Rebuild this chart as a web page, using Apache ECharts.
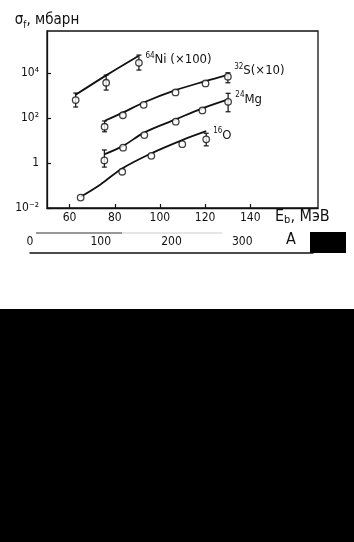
<!DOCTYPE html>
<html>
<head>
<meta charset="utf-8">
<script src="https://cdn.jsdelivr.net/npm/echarts@6.0.0/dist/echarts.min.js"></script>
<style>
html,body{margin:0;padding:0;background:#fff;}
#c{width:354px;height:542px;}
</style>
</head>
<body>
<div id="c"></div>
<script>
// ---- data ----
const xTickValues = [60, 80, 100, 120, 140];
const yTickValues = [0.01, 1, 100, 10000];
const aTickValues = [0, 100, 200, 300];

// 64Ni (x100)
const niE = [62.7, 76.2, 90.7];
const niVal = [630, 3700, 28600];
const niErrE = [62.7, 76.2, 90.7];
const niErrLow = [309, 1750, 13600];
const niErrHigh = [1290, 8130, 63000];
const niLineE = [62.5, 76.2, 90.5];
const niLineVal = [1050, 7900, 57500];

// 32S (x10)
const sE = [75.5, 83.6, 92.8, 106.9, 120.2, 130.1];
const sVal = [41, 133, 386, 1380, 3470, 6900];
const sErrE = [75.5, 130.1];
const sErrLow = [24.5, 3700];
const sErrHigh = [74, 10300];
const sLineE = [75.6, 83.6, 92.8, 106.9, 120.2, 129.8];
const sLineVal = [76, 174, 490, 1740, 4370, 8130];

// 24Mg
const mgE = [75.4, 83.7, 93.1, 107.0, 118.8, 130.2];
const mgVal = [1.3, 4.8, 17.4, 69, 219, 525];
const mgErrE = [75.4, 130.2];
const mgErrLow = [0.66, 190];
const mgErrHigh = [3.8, 1260];
const mgLineE = [75.6, 83.7, 93.0, 107.0, 118.8, 130.3];
const mgLineVal = [2.5, 5.8, 22.4, 87, 270, 676];

// 16O
const oE = [64.9, 83.3, 96.2, 109.9, 120.5];
const oVal = [0.029, 0.41, 2.09, 6.9, 11.3];
const oErrE = [120.5];
const oErrLow = [5.8];
const oErrHigh = [21];
const oLineE = [64.9, 73.7, 83.3, 96.2, 109.9, 120.5];
const oLineVal = [0.0316, 0.112, 0.575, 2.7, 10.5, 26];

const labels = ['{p|64}{n|Ni (×100)}', '{p|32}{n|S(×10)}', '{p|24}{n|Mg}', '{p|16}{n|O}'];

// ---- build ----
const FONT = "'Liberation Sans Narrow','DejaVu Sans Condensed','Liberation Sans',sans-serif";
const INK = '#111';
const zip = (a, b) => a.map((v, i) => [v, b[i]]);
const zip3 = (a, b, c) => a.map((v, i) => [v, b[i], c[i]]);
const supMap = {'0':'⁰','1':'¹','2':'²','3':'³','4':'⁴','5':'⁵','6':'⁶','7':'⁷','8':'⁸','9':'⁹','-':'⁻'};
function yFmt(v) {
  const l = Math.log10(v);
  const e = Math.round(l);
  if (Math.abs(l - e) > 1e-6 || e % 2 !== 0) return '';
  if (e === 0) return '1';
  return '10' + String(e).split('').map(c => supMap[c]).join('');
}
const labelRich = {
  p: {fontFamily: FONT, fontSize: 8, color: INK, verticalAlign: 'top', lineHeight: 10},
  n: {fontFamily: FONT, fontSize: 13, color: INK, lineHeight: 17}
};
function lineSeries(E, V, label, off) {
  return {
    type: 'line', data: zip(E, V), smooth: 0.35, symbol: 'none',
    lineStyle: {color: INK, width: 1.8}, z: 2,
    endLabel: {show: true, formatter: label, distance: 7, offset: off, rich: labelRich}
  };
}
function errSeries(E, lo, hi) {
  return {
    type: 'custom', data: zip3(E, lo, hi), z: 3,
    encode: {x: 0, y: [1, 2]},
    renderItem: function (params, api) {
      const a = api.coord([api.value(0), api.value(1)]);
      const b = api.coord([api.value(0), api.value(2)]);
      const w = 2.5;
      const st = {stroke: INK, lineWidth: 1.2};
      return {type: 'group', children: [
        {type: 'line', shape: {x1: a[0], y1: a[1], x2: b[0], y2: b[1]}, style: st},
        {type: 'line', shape: {x1: a[0] - w, y1: a[1], x2: a[0] + w, y2: a[1]}, style: st},
        {type: 'line', shape: {x1: b[0] - w, y1: b[1], x2: b[0] + w, y2: b[1]}, style: st}
      ]};
    }
  };
}
function ptSeries(E, V) {
  return {
    type: 'scatter', data: zip(E, V), symbol: 'circle', symbolSize: 6.5, z: 4,
    itemStyle: {color: '#fff', borderColor: INK, borderWidth: 1.3}
  };
}

const chart = echarts.init(document.getElementById('c'), null, {renderer: 'canvas'});
chart.setOption({
  animation: false,
  backgroundColor: '#fff',
  grid: [
    {left: 47, top: 31, width: 271, height: 177, show: true, borderColor: INK, borderWidth: 1.3, backgroundColor: 'transparent'},
    {left: 30, top: 232, width: 283, height: 21}
  ],
  xAxis: [
    {type: 'value', gridIndex: 0, min: 50, max: 170,
     axisLine: {lineStyle: {color: INK, width: 1.3}},
     axisTick: {inside: true, length: 4, customValues: xTickValues, lineStyle: {color: INK, width: 1.2}},
     axisLabel: {customValues: xTickValues, color: INK, fontFamily: FONT, fontSize: 12, margin: 4},
     splitLine: {show: false}},
    {type: 'value', gridIndex: 1, min: 0, max: 400,
     axisLine: {lineStyle: {color: INK, width: 1.5}},
     axisTick: {show: false},
     axisLabel: {customValues: aTickValues, inside: true, color: INK, fontFamily: FONT, fontSize: 12, margin: 5},
     splitLine: {show: false}}
  ],
  yAxis: [
    {type: 'log', gridIndex: 0, logBase: 10, min: 0.01, max: Math.pow(10, 5.87), interval: 2,
     name: '{m|σ}{s|f}{m|, мбарн}', nameLocation: 'end', nameGap: 1,
     nameTextStyle: {align: 'center', rich: {
       m: {fontFamily: FONT, fontSize: 15, color: INK, lineHeight: 19},
       s: {fontFamily: FONT, fontSize: 10, color: INK, verticalAlign: 'bottom', lineHeight: 10}}},
     axisLine: {lineStyle: {color: INK, width: 1.3}},
     axisTick: {inside: true, length: 4, lineStyle: {color: INK, width: 1.2}},
     axisLabel: {formatter: yFmt, color: INK, fontFamily: FONT, fontSize: 12, margin: 8, showMaxLabel: false},
     splitLine: {show: false}, minorTick: {show: false}},
    {type: 'value', gridIndex: 1, show: false}
  ],
  series: [
    lineSeries(niLineE, niLineVal, labels[0], [0, 4]),
    lineSeries(sLineE, sLineVal, labels[1], [0, -4]),
    lineSeries(mgLineE, mgLineVal, labels[2], [0, 0]),
    lineSeries(oLineE, oLineVal, labels[3], [0, 4]),
    errSeries(niErrE, niErrLow, niErrHigh),
    errSeries(sErrE, sErrLow, sErrHigh),
    errSeries(mgErrE, mgErrLow, mgErrHigh),
    errSeries(oErrE, oErrLow, oErrHigh),
    ptSeries(niE, niVal),
    ptSeries(sE, sVal),
    ptSeries(mgE, mgVal),
    ptSeries(oE, oVal)
  ],
  graphic: [
    {type: 'text', left: 275, top: 209, style: {
      text: '{m|E}{s|b}{m|, МэВ}', rich: {
        m: {fontFamily: FONT, fontSize: 16, fill: INK, lineHeight: 18},
        s: {fontFamily: FONT, fontSize: 11, fill: INK, verticalAlign: 'bottom', lineHeight: 12}}}},
    {type: 'text', left: 286, top: 232, style: {text: 'A', fontFamily: FONT, fontSize: 16, fill: INK}},
    {type: 'line', shape: {x1: 36, y1: 233, x2: 122, y2: 233}, style: {stroke: '#333', lineWidth: 1.2}},
    {type: 'line', shape: {x1: 122, y1: 233, x2: 222, y2: 233}, style: {stroke: '#ccc', lineWidth: 1}},
    {type: 'rect', shape: {x: 310, y: 232, width: 36, height: 21}, style: {fill: '#000'}},
    {type: 'rect', shape: {x: 0, y: 309, width: 354, height: 233}, style: {fill: '#000'}}
  ]
});
</script>
</body>
</html>
